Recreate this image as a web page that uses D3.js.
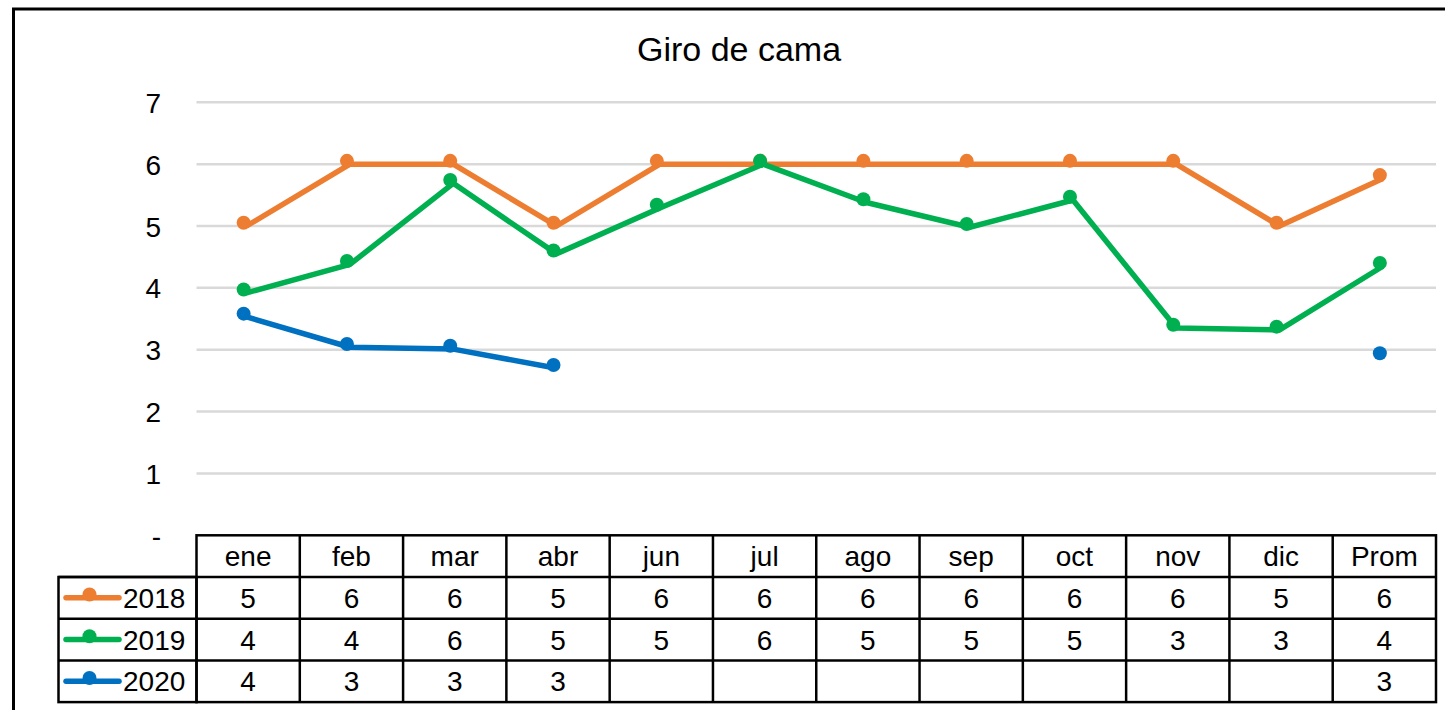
<!DOCTYPE html>
<html>
<head>
<meta charset="utf-8">
<script src="https://cdn.jsdelivr.net/npm/d3@7"></script>
<style>
  html, body { margin: 0; padding: 0; background: #fff; }
  svg { display: block; font-family: "Liberation Sans", Arial, sans-serif; }
</style>
</head>
<body>
<svg id="chart" width="1445" height="710"></svg>
<script>
// Bed turnover ("Giro de cama") per month, three years plus the average
const categories = ["ene", "feb", "mar", "abr", "jun", "jul", "ago", "sep", "oct", "nov", "dic", "Prom"];
const seriesNames = ["2018", "2019", "2020"];
const values2018 = [5.0, 6.0, 6.0, 5.0, 6.0, 6.0, 6.0, 6.0, 6.0, 6.0, 5.0, 5.77];
const values2019 = [3.92, 4.38, 5.69, 4.55, 5.29, 6.0, 5.38, 4.98, 5.42, 3.35, 3.32, 4.35];
const values2020 = [3.53, 3.04, 3.01, 2.70, null, null, null, null, null, null, null, 2.89];
const tableLabels2018 = ["5", "6", "6", "5", "6", "6", "6", "6", "6", "6", "5", "6"];
const tableLabels2019 = ["4", "4", "6", "5", "5", "6", "5", "5", "5", "3", "3", "4"];
const tableLabels2020 = ["4", "3", "3", "3", "", "", "", "", "", "", "", "3"];
const yTicks = [0, 1, 2, 3, 4, 5, 6, 7];
const yTickLabels = ["-", "1", "2", "3", "4", "5", "6", "7"];
const colors = ["#ED7D31", "#00B050", "#0070C0"];

const series = [
  { name: seriesNames[0], values: values2018, labels: tableLabels2018, color: colors[0] },
  { name: seriesNames[1], values: values2019, labels: tableLabels2019, color: colors[1] },
  { name: seriesNames[2], values: values2020, labels: tableLabels2020, color: colors[2] }
];

const svg = d3.select("#chart");

// Plot geometry
const plotLeft = 196.5, plotRight = 1436;
const yTop = 102.3, yZero = 535.3;
const rowH = 41.7;
const keyLeft = 58.5;
const fontSize = 28;

const x = d3.scaleBand().domain(categories).range([plotLeft, plotRight]);
const xc = c => x(c) + x.bandwidth() / 2;
const y = d3.scaleLinear().domain([0, 7]).range([yZero, yTop]);

// Chart frame
svg.append("path")
  .attr("d", `M13.5,712 L13.5,9 L1447,9`)
  .attr("fill", "none").attr("stroke", "#000").attr("stroke-width", 3);

// Title
svg.append("text")
  .attr("x", 739).attr("y", 61)
  .attr("text-anchor", "middle")
  .attr("font-size", 34)
  .attr("fill", "#000")
  .text("Giro de cama");

// Gridlines
svg.append("g").selectAll("line")
  .data(yTicks.filter(t => t > 0))
  .join("line")
  .attr("x1", plotLeft).attr("x2", plotRight)
  .attr("y1", d => y(d)).attr("y2", d => y(d))
  .attr("stroke", "#D9D9D9").attr("stroke-width", 2.5);

// Y axis labels
const yAxis = d3.axisLeft(y).tickValues(yTicks)
  .tickFormat((d, i) => yTickLabels[i]).tickSize(0).tickPadding(0);
const yg = svg.append("g").attr("transform", "translate(161,0)").call(yAxis);
yg.select(".domain").remove();
yg.selectAll("text")
  .attr("font-size", fontSize)
  .attr("font-family", "Liberation Sans, Arial, sans-serif")
  .attr("fill", "#000")
  .attr("dy", "0.36em");

// Lines
const line = d3.line()
  .defined(d => d.v != null)
  .x(d => xc(d.c) - 1.5)
  .y(d => y(d.v));

series.forEach(s => {
  const pts = categories.map((c, i) => ({ c, v: s.values[i] }));
  // the average column joins the line only when December has a value
  const monthPts = pts.slice(0, pts.length - 1);
  const linePts = (s.values[categories.length - 2] != null) ? pts : monthPts;
  svg.append("path")
    .datum(linePts)
    .attr("d", line)
    .attr("fill", "none")
    .attr("stroke", s.color)
    .attr("stroke-width", 5.5)
    .attr("stroke-linejoin", "round");
  svg.append("g")
    .attr("transform", "translate(-4.5,-3.3)")
    .selectAll("circle")
    .data(pts.filter(d => d.v != null))
    .join("circle")
    .attr("cx", d => xc(d.c))
    .attr("cy", d => y(d.v))
    .attr("r", 7)
    .attr("fill", s.color);
});

// Data table
const table = svg.append("g").attr("fill", "none").attr("stroke", "#000").attr("stroke-width", 2.5);
const tableBottom = yZero + rowH * 4;
// header row frame
table.append("rect")
  .attr("x", plotLeft).attr("y", yZero)
  .attr("width", plotRight - plotLeft).attr("height", tableBottom - yZero);
// key column frame
table.append("rect")
  .attr("x", keyLeft).attr("y", yZero + rowH)
  .attr("width", plotLeft - keyLeft).attr("height", rowH * 3);
// row separators
[1, 2, 3].forEach(r => {
  table.append("line")
    .attr("x1", keyLeft).attr("x2", plotRight)
    .attr("y1", yZero + rowH * r).attr("y2", yZero + rowH * r);
});
// column separators
categories.slice(1).forEach(c => {
  table.append("line")
    .attr("x1", x(c)).attr("x2", x(c))
    .attr("y1", yZero).attr("y2", tableBottom);
});

// Header labels
svg.append("g").selectAll("text")
  .data(categories)
  .join("text")
  .attr("x", d => xc(d))
  .attr("y", yZero + rowH / 2)
  .attr("dy", "0.36em")
  .attr("text-anchor", "middle")
  .attr("font-size", fontSize)
  .attr("fill", "#000")
  .text(d => d);

// Value rows with legend keys
series.forEach((s, si) => {
  const rowMid = yZero + rowH * (si + 1) + rowH / 2;
  const g = svg.append("g");
  g.selectAll("text")
    .data(s.labels)
    .join("text")
    .attr("x", (d, i) => xc(categories[i]))
    .attr("y", rowMid)
    .attr("dy", "0.36em")
    .attr("text-anchor", "middle")
    .attr("font-size", fontSize)
    .attr("fill", "#000")
    .text(d => d);
  g.append("line")
    .attr("x1", 66).attr("x2", 119)
    .attr("y1", rowMid).attr("y2", rowMid)
    .attr("stroke", s.color).attr("stroke-width", 5.5).attr("stroke-linecap", "round");
  g.append("circle")
    .attr("cx", 89.5).attr("cy", rowMid - 3.3).attr("r", 7)
    .attr("fill", s.color);
  g.append("text")
    .attr("x", 123).attr("y", rowMid)
    .attr("dy", "0.36em")
    .attr("font-size", fontSize)
    .attr("fill", "#000")
    .text(s.name);
});
</script>
</body>
</html>
